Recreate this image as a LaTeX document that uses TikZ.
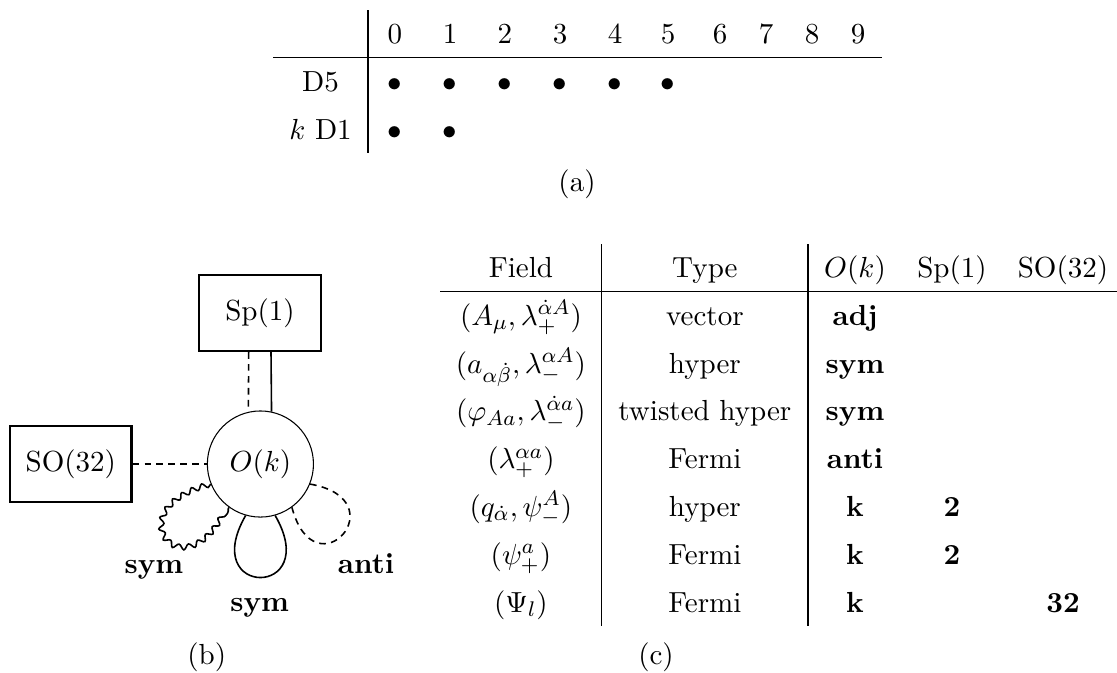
\documentclass[tikz,border=0pt]{standalone}
\usetikzlibrary{calc,decorations.pathmorphing}
\begin{document}
\begin{tikzpicture}[x=0.377pt,y=-0.377pt,
   font=\fontsize{10.95}{13.6}\selectfont,
   cell/.style={anchor=base,inner sep=0pt},
   group/.style={draw,thick,minimum width=45.8pt,minimum height=28.7pt,inner sep=0pt},
   gauge/.style={draw,circle,minimum size=40pt,inner sep=0pt},
   hyperdash/.style={semithick,dash pattern=on 2.5pt off 2pt},
   wavy/.style={semithick,decorate,decoration={snake,amplitude=1pt,segment length=4pt}}]
   \useasboundingbox (0,0) rectangle (1117,672);
   %(a) branes
   \draw (368,10) -- (368,153.4);
   \draw (273,57.8) -- (882,57.8);
   \foreach \d/\x in {0/395,1/450,2/505,3/560,4/615,5/668,6/720,7/766,8/812,9/858}
      \node[cell] (c\d) at (\x,43.5) {\d};
   \node[cell] (d5) at (320.5,91.3) {D5};
   \node[cell] (d1) at (320.5,139.1) {$k$ D1};
   \foreach \d in {0,...,5}
      \node[cell] (d5\d) at (c\d |- d5.base) {$\bullet$};
   \foreach \d in {0,1}
      \node[cell] (d1\d) at (c\d |- d1.base) {$\bullet$};
   \node[cell] (capa) at (577,191) {(a)};
   %(b) quiver
   \node[gauge] (ok) at (260.4,464) {$O(k)$};
   \node[group] (sp1) at (260,313) {Sp(1)};
   \node[group] (so32) at (70.8,464) {SO(32)};
   \draw[hyperdash] ($(sp1.south)+(-11.3,0)$) -- (ok.103);
   \draw[semithick] ($(sp1.south)+(11,0)$) -- (ok.78);
   \draw[hyperdash] (so32) -- (ok);
   %loops
   \draw[wavy] (ok.202) to[out=195,in=245,distance=37pt] (ok.234);
   \draw[semithick] (ok.254) to[out=240,in=300,distance=36pt] (ok.286);
   \draw[hyperdash] (ok.338) to[out=350,in=285,distance=34pt] (ok.306);
   \node[cell,font=\fontsize{10.95}{13.6}\selectfont\bfseries] (lsym) at (154,573.5) {sym};
   \node[cell,font=\fontsize{10.95}{13.6}\selectfont\bfseries] (lanti) at (366,573.5) {anti};
   \node[cell,font=\fontsize{10.95}{13.6}\selectfont\bfseries] (bsym) at (259.7,611.7) {sym};
   \node[cell] (capb) at (206.7,664) {(b)};
   %(c) fields
   \draw (601.7,244) -- (601.7,626.4);
   \draw (808,244) -- (808,626.4);
   \draw (440,291.8) -- (1117,291.8);
   \node[cell] (hf) at (520.9,277.5) {Field};
   \node[cell] (ht) at (704.9,277.5) {Type};
   \node[cell] (ho) at (855,277.5) {$O(k)$};
   \node[cell] (hs) at (952,277.5) {Sp(1)};
   \node[cell] (hso) at (1063,277.5) {SO(32)};
   \node[cell] (f1) at (520.9,325.3) {$(A_\mu, \lambda_+^{\dot\alpha A})$};
   \node[cell] (f2) at (520.9,373.1) {$(a_{\alpha\dot\beta}, \lambda_-^{\alpha A})$};
   \node[cell] (f3) at (520.9,420.9) {$(\varphi_{Aa}, \lambda_-^{\dot\alpha a})$};
   \node[cell] (f4) at (520.9,468.7) {$(\lambda_+^{\alpha a})$};
   \node[cell] (f5) at (520.9,516.5) {$(q_{\dot\alpha}, \psi_-^{A})$};
   \node[cell] (f6) at (520.9,564.3) {$(\psi_+^{a})$};
   \node[cell] (f7) at (520.9,612.1) {$(\Psi_l)$};
   \node[cell] (t1) at (ht |- f1.base) {vector};
   \node[cell] (t2) at (ht |- f2.base) {hyper};
   \node[cell] (t3) at (ht |- f3.base) {twisted hyper};
   \node[cell] (t4) at (ht |- f4.base) {Fermi};
   \node[cell] (t5) at (ht |- f5.base) {hyper};
   \node[cell] (t6) at (ht |- f6.base) {Fermi};
   \node[cell] (t7) at (ht |- f7.base) {Fermi};
   \node[cell] (o1) at (ho |- f1.base) {\textbf{adj}};
   \node[cell] (o2) at (ho |- f2.base) {\textbf{sym}};
   \node[cell] (o3) at (ho |- f3.base) {\textbf{sym}};
   \node[cell] (o4) at (ho |- f4.base) {\textbf{anti}};
   \node[cell] (o5) at (ho |- f5.base) {\textbf{k}};
   \node[cell] (o6) at (ho |- f6.base) {\textbf{k}};
   \node[cell] (o7) at (ho |- f7.base) {\textbf{k}};
   \node[cell] (s5) at (hs |- f5.base) {\textbf{2}};
   \node[cell] (s6) at (hs |- f6.base) {\textbf{2}};
   \node[cell] (so7) at (hso |- f7.base) {\textbf{32}};
   \node[cell] (capc) at (656,664) {(c)};
\end{tikzpicture}
\end{document}
